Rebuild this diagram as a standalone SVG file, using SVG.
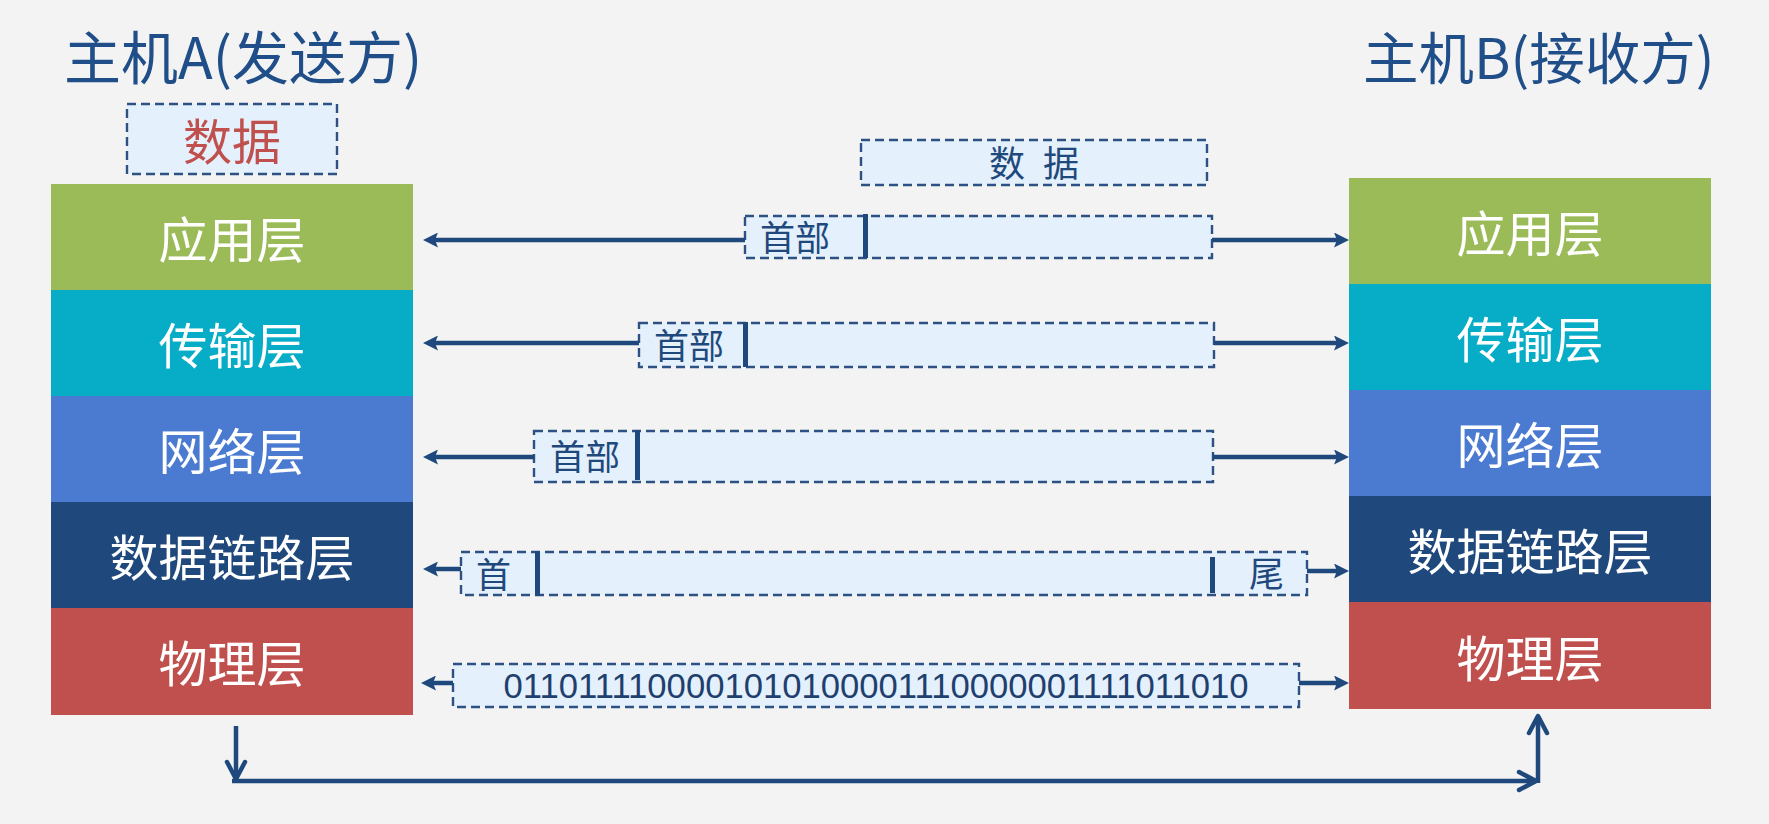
<svg xmlns="http://www.w3.org/2000/svg" width="1769" height="824" viewBox="0 0 1769 824">
  <style>
    .cjk { font-family: "Noto Sans CJK SC", "Microsoft YaHei", sans-serif; }
    .title { font-size: 57px; fill: #1F4E89; }
    .titleB { font-size: 55.5px; }
    .layer { font-size: 49px; fill: #FFFFFF; text-anchor: middle; }
    .pdu { fill: #E4F0FB; stroke: #2C5182; stroke-width: 2.4; stroke-dasharray: 9 5; }
    .lbl { font-size: 35px; fill: #1F497D; }
    .bar { fill: #1F497D; }
    .conn { stroke: #1F497D; stroke-width: 4.5; fill: none; }
  </style>
  <defs>
    <marker id="tri" viewBox="0 0 15 15" refX="3" refY="7.5" markerWidth="15" markerHeight="15" markerUnits="userSpaceOnUse" orient="auto">
      <path d="M0,0 L15,7.5 L0,15 L3,7.5 Z" fill="#1F497D"/>
    </marker>
    <marker id="chev" viewBox="-20 -12 24 24" refX="0" refY="0" markerWidth="24" markerHeight="24" markerUnits="userSpaceOnUse" orient="auto">
      <path d="M-17,-9 L0,0 L-17,9" fill="none" stroke="#1F497D" stroke-width="4.5" stroke-linecap="round" stroke-linejoin="round"/>
    </marker>
  </defs>

  <rect x="0" y="0" width="1769" height="824" fill="#F3F3F3"/>

  <!-- Titles -->
  <g id="titleA"><text class="cjk title" x="64" y="79">主机A(发送方)</text></g>
  <g id="titleB"><text class="cjk title titleB" x="1363" y="79">主机B(接收方)</text></g>

  <!-- Host A stack -->
  <g id="hostA">
    <g id="A-app"><rect x="51" y="184" width="362" height="106" fill="#9BBB59"/><text class="cjk layer" x="232" y="258">应用层</text></g>
    <g id="A-transport"><rect x="51" y="290" width="362" height="106" fill="#07ACC6"/><text class="cjk layer" x="232" y="364">传输层</text></g>
    <g id="A-network"><rect x="51" y="396" width="362" height="106" fill="#4B7BD1"/><text class="cjk layer" x="232" y="470">网络层</text></g>
    <g id="A-datalink"><rect x="51" y="502" width="362" height="106" fill="#1F487C"/><text class="cjk layer" x="232" y="576">数据链路层</text></g>
    <g id="A-physical"><rect x="51" y="608" width="362" height="107" fill="#C0504D"/><text class="cjk layer" x="232" y="682">物理层</text></g>
  </g>

  <!-- Host B stack -->
  <g id="hostB">
    <g id="B-app"><rect x="1349" y="178" width="362" height="106" fill="#9BBB59"/><text class="cjk layer" x="1530" y="252">应用层</text></g>
    <g id="B-transport"><rect x="1349" y="284" width="362" height="106" fill="#07ACC6"/><text class="cjk layer" x="1530" y="358">传输层</text></g>
    <g id="B-network"><rect x="1349" y="390" width="362" height="106" fill="#4B7BD1"/><text class="cjk layer" x="1530" y="464">网络层</text></g>
    <g id="B-datalink"><rect x="1349" y="496" width="362" height="106" fill="#1F487C"/><text class="cjk layer" x="1530" y="570">数据链路层</text></g>
    <g id="B-physical"><rect x="1349" y="602" width="362" height="107" fill="#C0504D"/><text class="cjk layer" x="1530" y="677">物理层</text></g>
  </g>

  <!-- Data at host A -->
  <g id="dataA">
    <rect class="pdu" x="127" y="104" width="210" height="70"/>
    <text class="cjk" x="232" y="160" font-size="49" fill="#C0504D" text-anchor="middle">数据</text>
  </g>

  <!-- Data (middle) -->
  <g id="dataMid">
    <rect class="pdu" x="861" y="140" width="346" height="45"/>
    <text class="cjk" x="1034" y="177" font-size="36" fill="#1F497D" text-anchor="middle" xml:space="preserve" word-spacing="10">数 据</text>
  </g>

  <!-- Application PDU -->
  <g id="pdu-app">
    <rect class="pdu" x="745" y="216" width="467" height="42"/>
    <rect class="bar" x="863" y="214" width="5" height="44"/>
    <text class="cjk lbl" x="760" y="251">首部</text>
  </g>

  <!-- Transport PDU -->
  <g id="pdu-transport">
    <rect class="pdu" x="639" y="323" width="575" height="44"/>
    <rect class="bar" x="743" y="322" width="5" height="45"/>
    <text class="cjk lbl" x="654" y="359">首部</text>
  </g>

  <!-- Network PDU -->
  <g id="pdu-network">
    <rect class="pdu" x="534" y="431" width="679" height="51"/>
    <rect class="bar" x="635" y="430" width="5" height="50"/>
    <text class="cjk lbl" x="550" y="470">首部</text>
  </g>

  <!-- Data link frame -->
  <g id="pdu-datalink">
    <rect class="pdu" x="461" y="552" width="846" height="43"/>
    <rect class="bar" x="535" y="551" width="5" height="45"/>
    <rect class="bar" x="1210" y="557" width="5" height="36"/>
    <text class="cjk lbl" x="476" y="588">首</text>
    <text class="cjk lbl" x="1249" y="587">尾</text>
  </g>

  <!-- Physical bits -->
  <g id="pdu-physical">
    <rect class="pdu" x="453" y="664" width="846" height="43"/>
    <text x="876" y="698" font-family="'Liberation Sans', Arial, sans-serif" font-size="35" fill="#1F3F6E" text-anchor="middle" textLength="745" lengthAdjust="spacingAndGlyphs">0110111100001010100001110000001111011010</text>
  </g>

  <!-- Connectors -->
  <g id="connectors">
    <line class="conn" x1="745" y1="240" x2="435" y2="240" marker-end="url(#tri)"/>
    <line class="conn" x1="1212" y1="240" x2="1337" y2="240" marker-end="url(#tri)"/>

    <line class="conn" x1="639" y1="343" x2="435" y2="343" marker-end="url(#tri)"/>
    <line class="conn" x1="1214" y1="343" x2="1337" y2="343" marker-end="url(#tri)"/>

    <line class="conn" x1="534" y1="457" x2="435" y2="457" marker-end="url(#tri)"/>
    <line class="conn" x1="1213" y1="457" x2="1337" y2="457" marker-end="url(#tri)"/>

    <line class="conn" x1="461" y1="569" x2="435" y2="569" marker-end="url(#tri)"/>
    <line class="conn" x1="1307" y1="571" x2="1337" y2="571" marker-end="url(#tri)"/>

    <line class="conn" x1="453" y1="683" x2="433" y2="683" marker-end="url(#tri)"/>
    <line class="conn" x1="1299" y1="683" x2="1337" y2="683" marker-end="url(#tri)"/>

    <line class="conn" x1="236" y1="726" x2="236" y2="779" marker-end="url(#chev)"/>
    <line class="conn" x1="232" y1="781" x2="1536" y2="781" marker-end="url(#chev)"/>
    <line class="conn" x1="1538" y1="783" x2="1538" y2="716" marker-end="url(#chev)"/>
  </g>
</svg>
